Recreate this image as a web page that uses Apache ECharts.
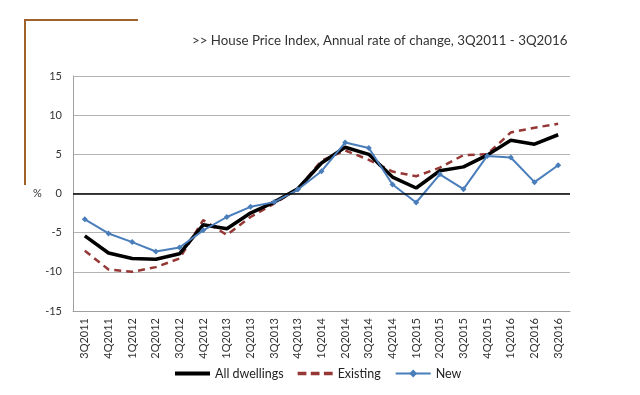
<!DOCTYPE html>
<html>
<head>
<meta charset="utf-8">
<script src="https://cdn.jsdelivr.net/npm/echarts@6/dist/echarts.min.js"></script>
<style>html,body{margin:0;padding:0;background:#fff}#c{width:640px;height:395px}</style>
</head>
<body>
<div id="c"></div>
<script>
var categories = ["3Q2011","4Q2011","1Q2012","2Q2012","3Q2012","4Q2012","1Q2013","2Q2013","3Q2013","4Q2013","1Q2014","2Q2014","3Q2014","4Q2014","1Q2015","2Q2015","3Q2015","4Q2015","1Q2016","2Q2016","3Q2016"];
var allDwellings = [-5.4,-7.6,-8.3,-8.4,-7.7,-4.0,-4.5,-2.5,-1.1,0.6,3.9,5.9,5.0,2.1,0.7,2.9,3.4,4.9,6.8,6.3,7.5];
var existing = [-7.3,-9.7,-10.0,-9.4,-8.3,-3.4,-5.3,-3.0,-1.3,0.6,4.2,5.5,4.3,2.8,2.2,3.3,4.9,5.0,7.8,8.4,8.9];
var newDw = [-3.3,-5.1,-6.2,-7.4,-6.9,-4.7,-3.0,-1.7,-1.1,0.5,2.85,6.5,5.8,1.15,-1.15,2.45,0.55,4.8,4.6,1.45,3.6];
var yTicks = {min:-15, max:15, interval:5};
var titleText = ">> House Price Index, Annual rate of change, 3Q2011 - 3Q2016";
var FONT = "Lato";

var chart = echarts.init(document.getElementById('c'), null, {renderer:'canvas'});
chart.setOption({
  animation:false,
  backgroundColor:'#fff',
  textStyle:{fontFamily:FONT},
  grid:{left:73,right:70,top:76,bottom:84},
  graphic:[
    {type:'polyline', shape:{points:[[138,20],[25,20],[25,185]]}, style:{stroke:'#A0622D',lineWidth:2,fill:null}},
    {type:'text', left:192, top:34, style:{text:titleText, font:'13.3px '+FONT, fill:'#333'}},
    {type:'text', left:33, top:188, style:{text:'%', font:'11px '+FONT, fill:'#333'}}
  ],
  legend:{
    bottom:10, left:170, itemWidth:35, itemHeight:10, itemGap:14,
    textStyle:{fontSize:12.5, color:'#222', fontFamily:FONT},
    data:[
      {name:'All dwellings', icon:'path://M0,0 L35,0 L35,4 L0,4 Z', itemStyle:{color:'#000'}},
      {name:'Existing', icon:'path://M0,0 L8,0 L8,3 L0,3 Z M12,0 L20,0 L20,3 L12,3 Z M24,0 L32,0 L32,3 L24,3 Z', itemStyle:{color:'#953735'}},
      {name:'New'}
    ]
  },
  xAxis:{
    type:'category', data:categories, boundaryGap:true,
    axisLine:{onZero:false, lineStyle:{color:'#A0A0A0'}},
    axisTick:{show:false},
    axisLabel:{rotate:90, fontSize:11, color:'#333', margin:7, interval:0}
  },
  yAxis:{
    type:'value', min:yTicks.min, max:yTicks.max, interval:yTicks.interval,
    axisLine:{show:true, lineStyle:{color:'#A0A0A0'}},
    axisTick:{show:false},
    splitLine:{lineStyle:{color:'#B4B4B4', width:1}},
    axisLabel:{fontSize:11, color:'#333', margin:11}
  },
  series:[
    {name:'All dwellings', type:'line', data:allDwellings, symbol:'none',
     lineStyle:{color:'#000', width:3.5}, itemStyle:{color:'#000'}, z:3,
     markLine:{silent:true, symbol:'none', label:{show:false},
       lineStyle:{color:'#000', width:1.5, type:'solid'}, data:[{yAxis:0}]}},
    {name:'Existing', type:'line', data:existing, symbol:'none',
     lineStyle:{color:'#953735', width:2.5, type:[7,5]}, itemStyle:{color:'#953735'}, z:2},
    {name:'New', type:'line', data:newDw, symbol:'diamond', symbolSize:6, showSymbol:true,
     lineStyle:{color:'#4A7EBB', width:2}, itemStyle:{color:'#4A7EBB'}, z:4}
  ]
});
</script>
</body>
</html>
